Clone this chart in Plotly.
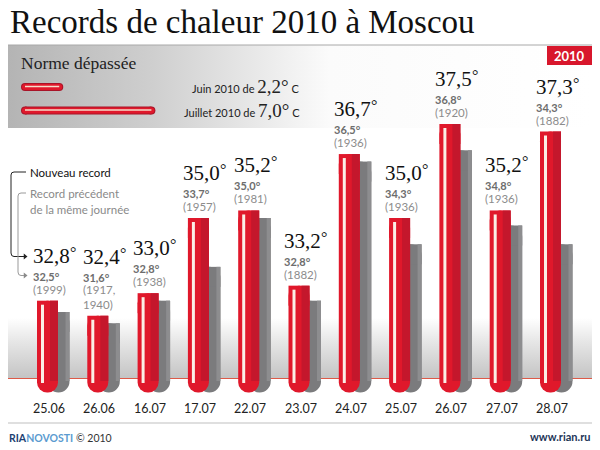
"""
Records de chaleur 2010 a Moscou: infographic rebuilt with Plotly.
"""
import plotly.graph_objects as go

dates = ["25.06", "26.06", "16.07", "17.07", "22.07", "23.07", "24.07", "25.07", "26.07", "27.07", "28.07"]
new_records = [32.8, 32.4, 33.0, 35.0, 35.2, 33.2, 36.7, 35.0, 37.5, 35.2, 37.3]
prev_labels = ["32,5", "31,6", "32,8", "33,7", "35,0", "32,8", "36,5", "34,3", "36,8", "34,8", "34,3"]
# grey bars as drawn (26.06 is drawn taller than its label says)
prev_heights = [32.5, 32.2, 32.8, 33.7, 35.0, 32.8, 36.5, 34.3, 36.8, 34.8, 34.3]
prev_years = ["1999", "1917,<br>1940", "1938", "1957", "1981", "1882", "1936", "1936", "1920", "1936", "1882"]

norm_labels = ["Juin 2010 de", "Juillet 2010 de"]
norm_values = [2.2, 7.0]

SERIF = "Liberation Serif"
SANS = "Lato"
RED = "#e0182b"
DARK_RED = "#c4172c"
GREY = "#7b7b7d"

# scales of the full-canvas axes
PX_PER_DEG = 37.6
PX_PER_DAY = 50.3
PX_PER_NORM = 19.2
Y_REF_PX, Y_REF_VAL = 300.7, 32.8
X_START_PX = 47.5
NORM_START_PX = 21
BOTTOM_PX = 392.5


def deg_at(py):
    return Y_REF_VAL + (Y_REF_PX - py) / PX_PER_DEG


def day_w(px):
    return px / PX_PER_DAY


positions = list(range(len(dates)))
fig = go.Figure()


def panel(xs, ys, gradient_type, stops):
    fig.add_trace(go.Scatter(
        x=xs, y=ys, mode="lines", fill="toself", line=dict(width=0),
        fillgradient=dict(type=gradient_type, colorscale=stops),
        hoverinfo="skip", showlegend=False,
    ))


# grey panel behind the legend and the shading above the baseline
panel([8, 592, 592, 8, 8], [45, 45, 128, 128, 45], "horizontal",
      [[0, "#b4b4b4"], [0.25, "#cfcfcf"], [0.55, "#fbfbfb"], [1, "#ffffff"]])
panel([8, 592, 592, 8, 8], [318, 318, 378, 378, 318], "vertical",
      [[0, "#c4c4c4"], [0.6, "#e6e6e6"], [1, "#ffffff"]])


def hanging_bars(tops, depths_px, width_px, center_px, color, radius=0):
    """Vertical bars hanging from each top, depth given in pixels, rounded at the lower end."""
    fig.add_trace(go.Bar(
        x=positions, y=[-d / PX_PER_DEG for d in depths_px], base=tops,
        width=day_w(width_px), offset=day_w(center_px - width_px / 2),
        marker=dict(color=color, cornerradius=radius, line=dict(width=0)),
        xaxis="x2", yaxis="y2", hoverinfo="skip", showlegend=False,
    ))


def depth_to(tops, floor_py):
    return [(t - deg_at(floor_py)) * PX_PER_DEG for t in tops]


def cap(tops):
    # square top end over the rounded bar
    return [20 for _ in tops]


hanging_bars(prev_heights, depth_to(prev_heights, BOTTOM_PX), 22, 11, GREY, 11)
hanging_bars(prev_heights, cap(prev_heights), 22, 11, GREY)
hanging_bars(prev_heights, depth_to(prev_heights, 381), 4, 20, "#8d8d8f")
hanging_bars(new_records, depth_to(new_records, BOTTOM_PX), 21, 0, RED, 10.5)
hanging_bars(new_records, cap(new_records), 21, 0, RED)
hanging_bars(new_records, depth_to(new_records, 381), 8, 6.5, DARK_RED)
strip_tops = [v - 4 / PX_PER_DEG for v in new_records]
hanging_bars(strip_tops, depth_to(strip_tops, 383), 3, -5, "#fbeee6")

# legend bars: same look as the columns, laid flat
inset = 4 / PX_PER_NORM
for row, value in enumerate(norm_values):
    py = 87 + row * 23.5
    ends = [inset, value - inset]
    for color, width, size in [("#a81428", 8, 8), (RED, 6, 6)]:
        fig.add_trace(go.Scatter(
            x=ends, y=[py, py], mode="lines+markers",
            line=dict(color=color, width=width), marker=dict(color=color, size=size),
            xaxis="x3", yaxis="y", hoverinfo="skip", showlegend=False,
        ))
    fig.add_trace(go.Scatter(
        x=ends, y=[py - 0.5, py - 0.5], mode="lines",
        line=dict(color="#f6dccb", width=1.5),
        xaxis="x3", yaxis="y", hoverinfo="skip", showlegend=False,
    ))

# arrowheads of the two connectors
fig.add_trace(go.Scatter(
    x=[25, 25], y=[256.5, 275.5], mode="markers",
    marker=dict(symbol="triangle-right", size=5, color=["#222222", "#8a8a8a"]),
    hoverinfo="skip", showlegend=False,
))

annotations = []


def note(text, px, py, size, color="#111111", family=SANS, anchor="left"):
    annotations.append(dict(
        text=text, x=px, y=py, xref="x", yref="y", xanchor=anchor, yanchor="middle",
        showarrow=False, font=dict(family=family, size=size, color=color),
    ))


note("Records de chaleur 2010 à Moscou", 8, 22, 33, "#111111", SERIF)
note("Norme dépassée", 19, 63, 17.5, "#222222", SERIF)
for row, (label, value) in enumerate(zip(norm_labels, norm_values)):
    value_text = f"{value:.1f}".replace(".", ",")
    note(
        f'{label} <span style="font-family:{SERIF};font-size:19px">{value_text}°</span> C',
        302, 86 + row * 24, 11, "#222222", SANS, "right",
    )

note("<b>2010</b>", 569.5, 55.5, 13, "#ffffff", SANS, "center")
note("Nouveau record", 28, 172, 11.5, "#111111")
note("Record précédent", 28, 193, 11.5, "#8a8a8a")
note("de la même journée", 28, 209, 11.5, "#8a8a8a")
note(
    '<b><span style="color:#1d3f72">RIA</span><span style="color:#5b9bd0">NOVOSTI</span></b> © 2010',
    7, 438, 10.5, "#333333",
)
note("<b>www.rian.ru</b>", 592, 436, 11, "#1d3557", SANS, "right")

for i, date in enumerate(dates):
    annotations.append(dict(
        text=date, x=i, y=408, xref="x2", yref="y", xshift=1.5,
        xanchor="center", yanchor="middle", showarrow=False,
        font=dict(family=SANS, size=12.5, color="#222222"),
    ))

    extra = prev_years[i].count("<br>") * 14
    top = new_records[i]
    value_text = f"{top:.1f}".replace(".", ",")
    for text, dx, shift, size, color, family in [
        (f"({prev_years[i]})", -17, 3, 11.5, "#8c8c8c", SANS),
        (f"<b>{prev_labels[i]}°</b>", -17, 16 + extra, 11, "#6d6d6d", SANS),
        (value_text, -17, 31 + extra, 21, "#111111", SERIF),
        ("°", 20, 38 + extra, 16, "#111111", SERIF),
    ]:
        annotations.append(dict(
            text=text, x=i, y=top, xref="x2", yref="y2", xshift=dx, yshift=shift,
            xanchor="left", yanchor="bottom", align="left", showarrow=False,
            font=dict(family=family, size=size, color=color),
        ))

shapes = [
    dict(type="line", x0=8, x1=592, y0=45, y1=45, line=dict(color="#a8a8a8", width=1)),
    dict(type="line", x0=8, x1=592, y0=423, y1=423, line=dict(color="#d4d4d4", width=1.5)),
    dict(type="rect", x0=547, x1=592, y0=46, y1=65, fillcolor="#d8172c", line=dict(width=0)),
    dict(type="path", path="M 26 172 L 14 172 Q 11 172 11 175 L 11 253 Q 11 256.5 14 256.5 L 24 256.5",
         line=dict(color="#222222", width=1)),
    dict(type="path", path="M 26 193 L 21 193 Q 18 193 18 196 L 18 272 Q 18 275.5 21 275.5 L 24 275.5",
         line=dict(color="#999999", width=1)),
]
for shape in shapes:
    shape.update(xref="x", yref="y", layer="above")
# baseline runs behind the columns
shapes.append(dict(type="line", x0=8, x1=592, y0=378.5, y1=378.5, xref="x", yref="y", layer="below",
                   line=dict(color="#dd5a48", width=1)))

fig.update_layout(
    width=600, height=450,
    margin=dict(l=0, r=0, t=0, b=0),
    paper_bgcolor="white", plot_bgcolor="rgba(0,0,0,0)",
    barmode="overlay", showlegend=False,
    annotations=annotations, shapes=shapes,
    xaxis=dict(range=[0, 600], visible=False, fixedrange=True),
    yaxis=dict(range=[450, 0], visible=False, fixedrange=True),
    xaxis2=dict(
        range=[-X_START_PX / PX_PER_DAY, (600 - X_START_PX) / PX_PER_DAY],
        overlaying="x", anchor="y2", visible=False, fixedrange=True,
    ),
    yaxis2=dict(range=[deg_at(450), deg_at(0)], overlaying="y", anchor="x2", visible=False, fixedrange=True),
    xaxis3=dict(
        range=[-NORM_START_PX / PX_PER_NORM, (600 - NORM_START_PX) / PX_PER_NORM],
        overlaying="x", anchor="y", visible=False, fixedrange=True,
    ),
)

fig.write_html("out.html", config={"displayModeBar": False}, post_script="document.body.style.margin='0';")
